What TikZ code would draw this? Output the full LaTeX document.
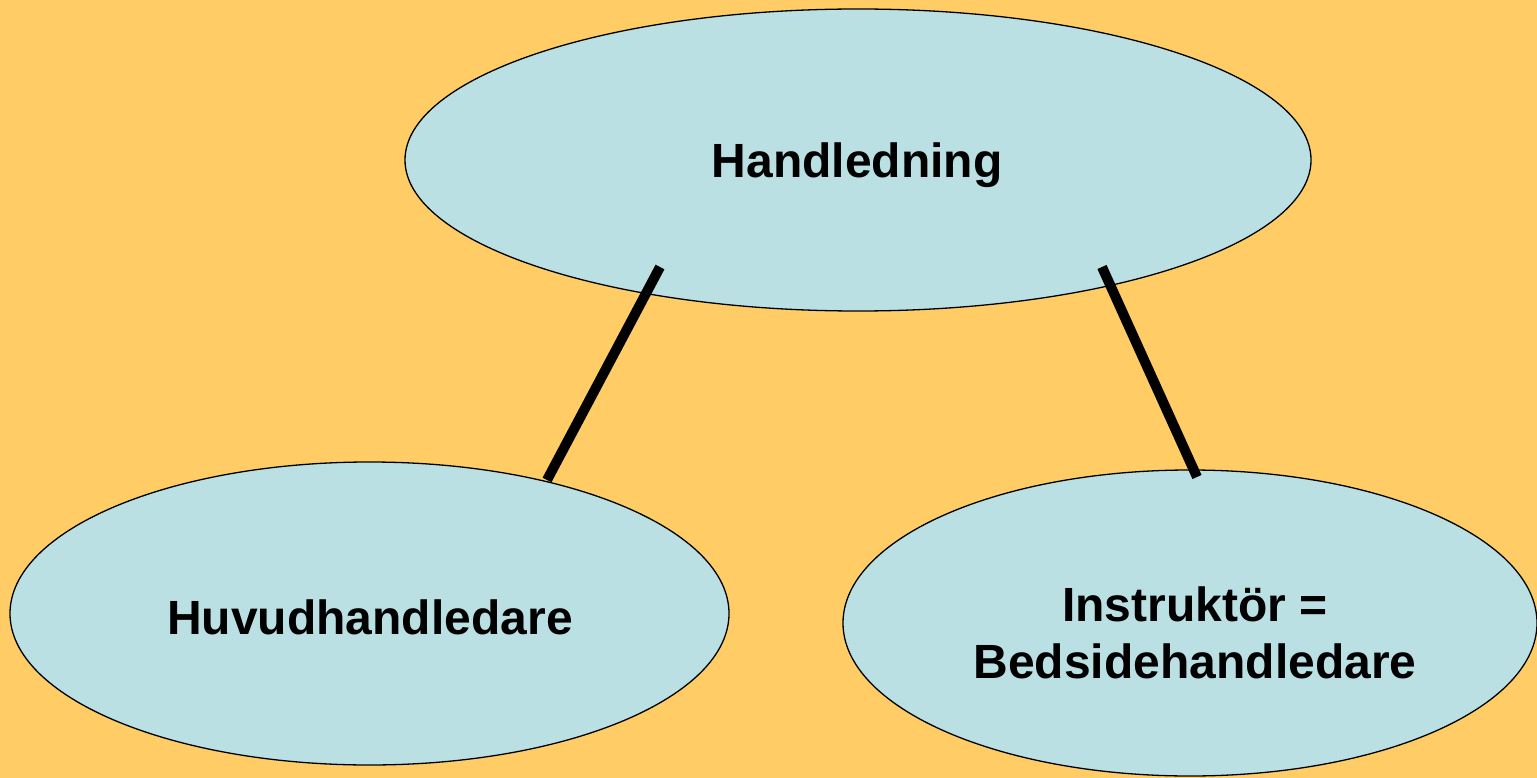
\documentclass[tikz,border=0pt]{standalone}
\usepackage{fontspec}
\setmainfont{Liberation Sans}
\usetikzlibrary{shapes.geometric}
\definecolor{bg}{RGB}{255,204,102}
\definecolor{oval}{RGB}{186,224,228}
\begin{document}
\begin{tikzpicture}[x=1pt,y=-1pt,
  oval/.style={ellipse, draw=black, line width=1.3pt, fill=oval, inner sep=0pt,
    font=\fontsize{48}{57}\selectfont\bfseries, align=center},
  label/.style={font=\fontsize{48}{57}\selectfont\bfseries, align=center},
  link/.style={line width=10pt, line cap=butt}]
\fill[bg] (0,0) rectangle (1537,778);
\useasboundingbox (0,0) rectangle (1537,778);
\node[oval, minimum width=906pt, minimum height=302pt] (top) at (858,160) {};
\node[label] (toptext) at (857,165) {Handledning};
\node[oval, minimum width=719pt, minimum height=303pt] (left) at (369.5,613.5) {};
\node[label] (lefttext) at (370,617) {Huvudhandledare};
\node[oval, minimum width=694pt, minimum height=306pt] (right) at (1190,623) {};
\node[label] (righttext) at (1195,633) {Instruktör =\\Bedsidehandledare};
\coordinate (l1) at (660,267);
\coordinate (l2) at (547,480);
\coordinate (r1) at (1102,267);
\coordinate (r2) at (1197,477);
\draw[link] (l1) -- (l2);
\draw[link] (r1) -- (r2);
\end{tikzpicture}
\end{document}
